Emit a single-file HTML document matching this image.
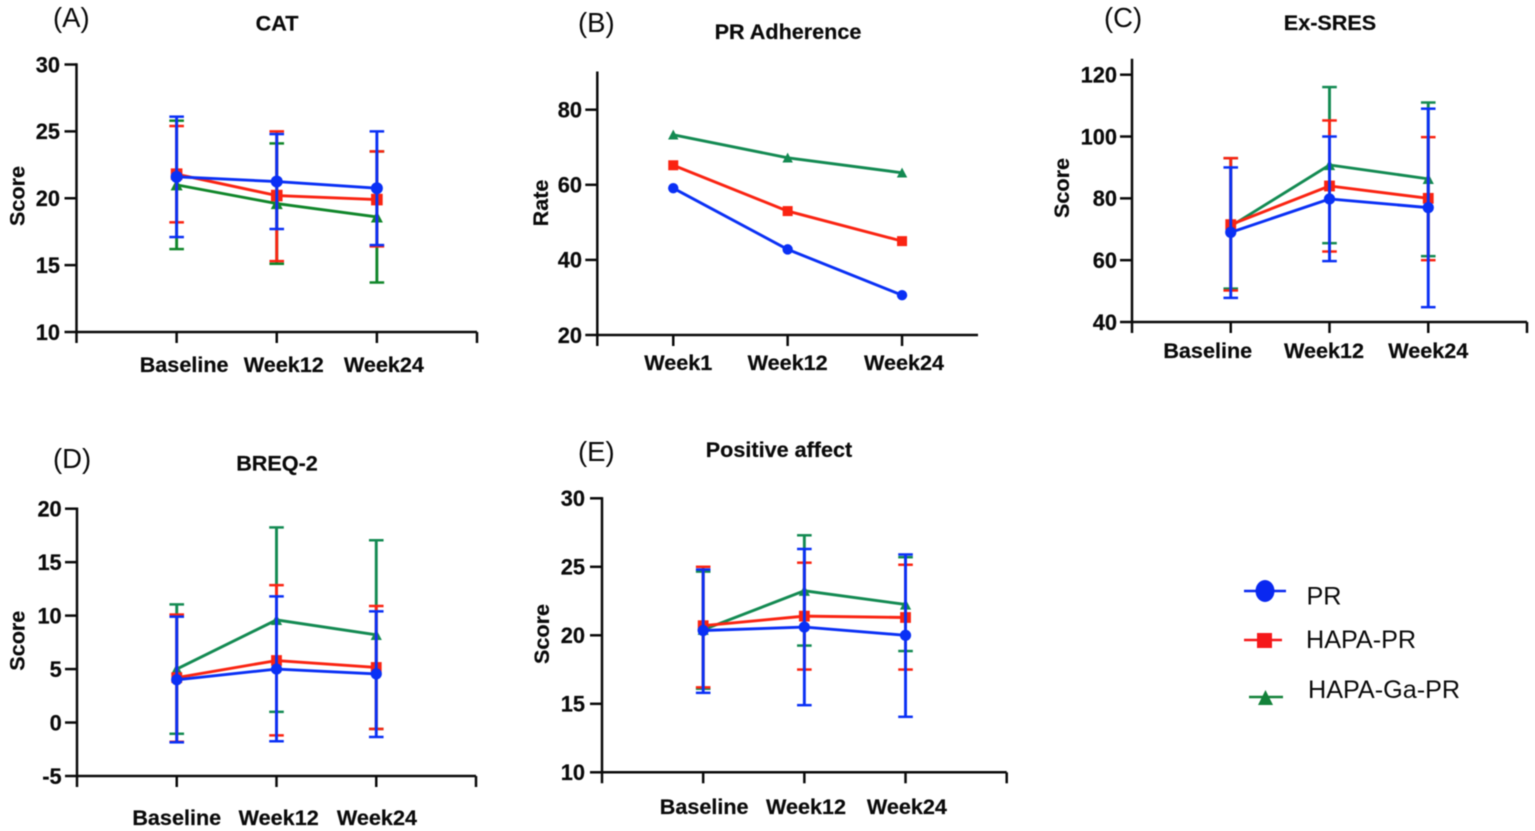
<!DOCTYPE html>
<html lang="en">
<head>
<meta charset="utf-8">
<title>Outcome scores by group over time</title>
<style>
html,body{margin:0;padding:0;background:#fff;}
#figure{display:block;filter:blur(0.5px);}
text{font-family:"Liberation Sans",Arial,sans-serif;fill:#0a0a0a;}
.bold{font-weight:700;stroke:#0a0a0a;stroke-width:0.2px;}
</style>
</head>
<body>
<svg id="figure" xmlns="http://www.w3.org/2000/svg" width="1535" height="831" viewBox="0 0 1535 831">
  <rect x="0" y="0" width="1535" height="831" fill="#ffffff"/>
  <g id="panels"></g>
  <g>
    <g>
      <line x1="1244" y1="591" x2="1286" y2="591" stroke="#0a28f0" stroke-width="2.6"/>
      <ellipse cx="1265" cy="591" rx="9.5" ry="11" fill="#0a28f0"/>
      <text x="1306.5" y="604.5" font-size="25.2">PR</text>
    </g>
    <g>
      <line x1="1244" y1="640" x2="1282" y2="640" stroke="#f5181a" stroke-width="2.6"/>
      <rect x="1257" y="633" width="15" height="15" fill="#f5181a"/>
      <text x="1306" y="648" font-size="25.2">HAPA-PR</text>
    </g>
    <g>
      <line x1="1249" y1="697" x2="1283" y2="697" stroke="#13823a" stroke-width="2.6"/>
      <polygon points="1265.5,690 1273,705 1258,705" fill="#13823a"/>
      <text x="1308" y="698" font-size="25.2">HAPA-Ga-PR</text>
    </g>
  </g>
</svg>
<script>
// ---------- Panel A: CAT ----------
const catsA = ['Baseline', 'Week12', 'Week24'];
const ticksA = [10, 15, 20, 25, 30];
const prMeanA = [21.6, 21.25, 20.75];
const prHiA = [26.1, 24.8, 25];
const prLoA = [17.1, 17.7, 16.5];
const hapaMeanA = [21.8, 20.2, 19.9];
const hapaHiA = [25.4, 25, 23.5];
const hapaLoA = [18.2, 15.3, 16.4];
const gaMeanA = [21, 19.6, 18.6];
const gaHiA = [25.8, 24.1, 23.5];
const gaLoA = [16.2, 15.1, 13.7];

// ---------- Panel B: PR Adherence ----------
const catsB = ['Week1', 'Week12', 'Week24'];
const ticksB = [20, 40, 60, 80];
const prMeanB = [59.1, 42.8, 30.6];
const hapaMeanB = [65.2, 53, 45];
const gaMeanB = [73.3, 67.2, 63.2];

// ---------- Panel C: Ex-SRES ----------
const catsC = ['Baseline', 'Week12', 'Week24'];
const ticksC = [40, 60, 80, 100, 120];
const prMeanC = [69, 79.8, 77];
const prHiC = [90, 100, 109];
const prLoC = [47.8, 59.7, 44.8];
const hapaMeanC = [71.5, 84, 80];
const hapaHiC = [93, 105.2, 99.8];
const hapaLoC = [50.2, 62.8, 60];
const gaMeanC = [71, 90.8, 86.3];
const gaHiC = [93, 116, 111];
const gaLoC = [50.8, 65.5, 61.3];

// ---------- Panel D: BREQ-2 ----------
const catsD = ['Baseline', 'Week12', 'Week24'];
const ticksD = [-5, 0, 5, 10, 15, 20];
const prMeanD = [4, 5, 4.55];
const prHiD = [9.9, 11.8, 10.4];
const prLoD = [-1.85, -1.75, -1.35];
const hapaMeanD = [4.2, 5.8, 5.15];
const hapaHiD = [10.1, 12.85, 10.9];
const hapaLoD = [-1.8, -1.2, -0.6];
const gaMeanD = [5, 9.6, 8.2];
const gaHiD = [11.05, 18.25, 17.05];
const gaLoD = [-1.05, 1, -0.6];

// ---------- Panel E: Positive affect ----------
const catsE = ['Baseline', 'Week12', 'Week24'];
const ticksE = [10, 15, 20, 25, 30];
const prMeanE = [20.35, 20.6, 20];
const prHiE = [24.8, 26.3, 25.9];
const prLoE = [15.8, 14.9, 14.05];
const hapaMeanE = [20.7, 21.4, 21.3];
const hapaHiE = [25, 25.3, 25.15];
const hapaLoE = [16.2, 17.5, 17.5];
const gaMeanE = [20.4, 23.25, 22.25];
const gaHiE = [24.65, 27.3, 25.7];
const gaLoE = [16.1, 19.25, 18.85];

const BLUE = '#0a30f5';
const RED = '#fa2412';
const GREEN_A = '#10862a';
const GREEN = '#138a52';

const panelConfigs = [
  { id: 'a', letter: '(A)', lx: 53, ly: 27, title: 'CAT', tx: 277, ty: 30.5, yTitle: 'Score', ytx: 24.5, yty: 196,
    axX: 76.5, axEnd: 477, pad: 1, yBot: 332, yTop: 64.5, dMin: 10, dMax: 30, axTop: 64.5, tickRight: 60,
    catY: 372, catShift: [7.5, 7, 7], ticks: ticksA, cats: catsA, green: GREEN_A, ms: 6,
    pr: [prMeanA, prHiA, prLoA], hapa: [hapaMeanA, hapaHiA, hapaLoA], ga: [gaMeanA, gaHiA, gaLoA] },
  { id: 'b', letter: '(B)', lx: 578, ly: 32, title: 'PR Adherence', tx: 788, ty: 39, yTitle: 'Rate', ytx: 548, yty: 203,
    axX: 597.3, axEnd: 978, pad: 0.664, yBot: 335, yTop: 109.7, dMin: 20, dMax: 80, axTop: 72.7, tickRight: 582,
    catY: 370, catShift: [5, 0, 2], ticks: ticksB, cats: catsB, green: GREEN, ms: 5.2,
    pr: [prMeanB], hapa: [hapaMeanB], ga: [gaMeanB] },
  { id: 'c', letter: '(C)', lx: 1104, ly: 27, title: 'Ex-SRES', tx: 1330, ty: 30, yTitle: 'Score', ytx: 1069, yty: 188,
    axX: 1132, axEnd: 1527, pad: 1, yBot: 322, yTop: 74.7, dMin: 40, dMax: 120, axTop: 60, tickRight: 1117,
    catY: 358, catShift: [-23, -5.5, 0], ticks: ticksC, cats: catsC, green: GREEN, ms: 5.6,
    pr: [prMeanC, prHiC, prLoC], hapa: [hapaMeanC, hapaHiC, hapaLoC], ga: [gaMeanC, gaHiC, gaLoC] },
  { id: 'd', letter: '(D)', lx: 53, ly: 468, title: 'BREQ-2', tx: 277, ty: 470.7, yTitle: 'Score', ytx: 24.5, yty: 640.7,
    axX: 77, axEnd: 476, pad: 1, yBot: 776, yTop: 508.7, dMin: -5, dMax: 20, axTop: 508.7, tickRight: 61.7,
    catY: 825, catShift: [0, 2.2, 0.7], ticks: ticksD, cats: catsD, green: GREEN, ms: 5.6,
    pr: [prMeanD, prHiD, prLoD], hapa: [hapaMeanD, hapaHiD, hapaLoD], ga: [gaMeanD, gaHiD, gaLoD] },
  { id: 'e', letter: '(E)', lx: 578, ly: 461, title: 'Positive affect', tx: 779, ty: 457, yTitle: 'Score', ytx: 549, yty: 634,
    axX: 602, axEnd: 1006.7, pad: 1, yBot: 772.3, yTop: 498.3, dMin: 10, dMax: 30, axTop: 498.3, tickRight: 585,
    catY: 814, catShift: [1, 1.7, 1.4], ticks: ticksE, cats: catsE, green: GREEN, ms: 5.6,
    pr: [prMeanE, prHiE, prLoE], hapa: [hapaMeanE, hapaHiE, hapaLoE], ga: [gaMeanE, gaHiE, gaLoE] }
];

const NS = 'http://www.w3.org/2000/svg';
const root = document.getElementById('panels');

function mk(tag, attrs, parent) {
  const el = document.createElementNS(NS, tag);
  for (const k in attrs) el.setAttribute(k, attrs[k]);
  parent.appendChild(el);
  return el;
}

function drawPanel(cfg) {
  const g = mk('g', {}, root);
  
  

  // axis functions
  const step = (cfg.axEnd - cfg.axX) / (2 + 2 * cfg.pad);
  const xScale = i => cfg.axX + (cfg.pad + i) * step;
  const yScale = v => cfg.yBot - (v - cfg.dMin) / (cfg.dMax - cfg.dMin) * (cfg.yBot - cfg.yTop);

  const letter = mk('text', { x: cfg.lx, y: cfg.ly, 'font-size': 27.5 }, g);
  letter.textContent = cfg.letter;
  
  

  const title = mk('text', { x: cfg.tx, y: cfg.ty, 'font-size': 21.6, 'text-anchor': 'middle', class: 'bold' }, g);
  title.textContent = cfg.title;
  
  

  const yTitle = mk('text', { x: 0, y: 0, 'font-size': 21.6, 'text-anchor': 'middle', class: 'bold',
    transform: 'translate(' + cfg.ytx + ',' + cfg.yty + ') rotate(-90)' }, g);
  yTitle.textContent = cfg.yTitle;
  
  

  const yAxis = mk('line', { x1: cfg.axX, y1: cfg.axTop - 1.2, x2: cfg.axX, y2: cfg.yBot + 11, stroke: '#0a0a0a', 'stroke-width': 2.5 }, g);
  
  

  const xAxis = mk('line', { x1: cfg.axX, y1: cfg.yBot, x2: cfg.axEnd, y2: cfg.yBot, stroke: '#0a0a0a', 'stroke-width': 2.5 }, g);
  
  

  if (cfg.pad === 1) {
    const endTick = mk('line', { x1: cfg.axEnd, y1: cfg.yBot, x2: cfg.axEnd, y2: cfg.yBot + 11, stroke: '#0a0a0a', 'stroke-width': 2.5 }, g);
    
    
  }

  cfg.ticks.forEach(t => {
    const tick = mk('line', { x1: cfg.axX - 12, y1: yScale(t), x2: cfg.axX, y2: yScale(t), stroke: '#0a0a0a', 'stroke-width': 2.5 }, g);
    
    
    const label = mk('text', { x: cfg.tickRight, y: yScale(t) + 7.8, 'font-size': 21.8, 'text-anchor': 'end', class: 'bold' }, g);
    label.textContent = String(t);
    
    
  });

  cfg.cats.forEach((c, i) => {
    const tick = mk('line', { x1: xScale(i), y1: cfg.yBot, x2: xScale(i), y2: cfg.yBot + 11, stroke: '#0a0a0a', 'stroke-width': 2.5 }, g);
    
    
    const label = mk('text', { x: xScale(i) + cfg.catShift[i], y: cfg.catY, 'font-size': 21.6, 'text-anchor': 'middle', class: 'bold' }, g);
    label.textContent = c;
    
    
  });

  const series = [
    { key: 'hapa-ga-pr', data: cfg.ga, color: cfg.green, shape: 'tri' },
    { key: 'hapa-pr', data: cfg.hapa, color: RED, shape: 'sq' },
    { key: 'pr', data: cfg.pr, color: BLUE, shape: 'circ' }
  ];

  series.forEach(s => {
    const sg = mk('g', {}, g);
    
    
    const means = s.data[0];
    const his = s.data[1];
    const los = s.data[2];

    if (his && los) {
      means.forEach((m, i) => {
        const x = xScale(i);
        const bar = mk('line', { x1: x, y1: yScale(his[i]), x2: x, y2: yScale(los[i]), stroke: s.color, 'stroke-width': 2.9 }, sg);
        
        
        const capHi = mk('line', { x1: x - 7.3, y1: yScale(his[i]), x2: x + 7.3, y2: yScale(his[i]), stroke: s.color, 'stroke-width': 2.5 }, sg);
        
        
        const capLo = mk('line', { x1: x - 7.3, y1: yScale(los[i]), x2: x + 7.3, y2: yScale(los[i]), stroke: s.color, 'stroke-width': 2.5 }, sg);
        
        
      });
    }

    const pts = means.map((m, i) => xScale(i) + ',' + yScale(m)).join(' ');
    const line = mk('polyline', { points: pts, fill: 'none', stroke: s.color, 'stroke-width': 2.9 }, sg);
    
    

    means.forEach((m, i) => {
      const x = xScale(i);
      const y = yScale(m);
      const r = cfg.ms;
      let mark;
      if (s.shape === 'circ') {
        mark = mk('circle', { cx: x, cy: y, r: r, fill: s.color }, sg);
      } else if (s.shape === 'sq') {
        mark = mk('rect', { x: x - r + 0.2, y: y - r + 0.2, width: 2 * r - 0.4, height: 2 * r - 0.4, fill: s.color }, sg);
      } else {
        mark = mk('polygon', { points: x + ',' + (y - r) + ' ' + (x + r) + ',' + (y + r - 0.5) + ' ' + (x - r) + ',' + (y + r - 0.5), fill: s.color }, sg);
      }
      
      
    });
  });
}

panelConfigs.forEach(drawPanel);
</script>
</body>
</html>
